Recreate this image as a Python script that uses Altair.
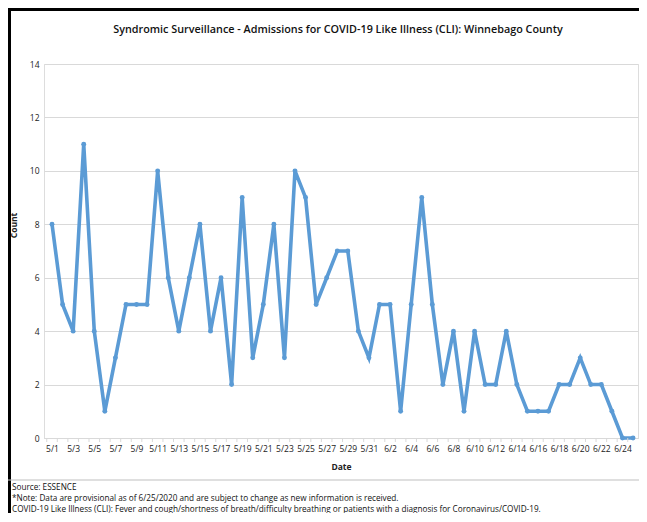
import json
import altair as alt
import pandas as pd

dates = [f"5/{d}" for d in range(1, 32)] + [f"6/{d}" for d in range(1, 26)]
counts = [8, 5, 4, 11, 4, 1, 3, 5, 5, 5,
          10, 6, 4, 6, 8, 4, 6, 2, 9, 3,
          5, 8, 3, 10, 9, 5, 6, 7, 7, 4, 3,
          5, 5, 1, 5, 9, 5, 2, 4, 1, 4,
          2, 2, 4, 2, 1, 1, 1, 2, 2, 3,
          2, 2, 1, 0, 0]
y_ticks = [0, 2, 4, 6, 8, 10, 12, 14]

title_text = "Syndromic Surveillance - Admissions for COVID-19 Like Illness (CLI): Winnebago County"
footer_lines = [
    "Source: ESSENCE",
    "*Note: Data are provisional as of 6/25/2020 and are subject to change as new information is received.",
    "COVID-19 Like Illness (CLI): Fever and cough/shortness of breath/difficulty breathing or patients with a diagnosis for Coronavirus/COVID-19.",
]

df = pd.DataFrame({"idx": list(range(len(dates))), "date": dates, "count": counts})

FONT = "Open Sans"
BLUE = "#5B9BD5"
GRID = "#d9d9d9"
W, H = 594, 374
PL, PT = 36, 56
TW, TH = 631, 505

label_values = list(range(0, len(dates), 2))
label_expr = json.dumps(dates) + "[datum.value]"

xscale = alt.Scale(domain=[-0.76, 55.47], nice=False, zero=False)
x = alt.X("idx:Q", scale=xscale,
          axis=alt.Axis(values=label_values, labelExpr=label_expr,
                        grid=False, domainColor=GRID, ticks=False,
                        labelFontSize=8.5, labelColor="#222222", labelFont=FONT,
                        labelPadding=6, labelAngle=0, labelOverlap=False, labelFlush=False,
                        labelSeparation=0, labelBound=False,
                        title="Date", titleFont=FONT, titleFontSize=8.5, titleFontWeight="bold",
                        titleColor="#222222", titleX=W / 2, titleY=28, titleBaseline="middle"))
y = alt.Y("count:Q",
          scale=alt.Scale(domain=[0, 14], nice=False),
          axis=alt.Axis(values=y_ticks, grid=True, gridColor=GRID, domain=False, ticks=False,
                        labelFontSize=8.5, labelColor="#222222", labelFont=FONT, labelPadding=5,
                        title="Count", titleFont=FONT, titleFontSize=8.5, titleFontWeight="bold",
                        titleColor="#222222", titleX=-31, titleY=161, titleAngle=270,
                        titleBaseline="middle", titleAlign="center"))

step = W / (55.47 + 0.76)

base = alt.Chart(df)
line = base.mark_line(color=BLUE, strokeWidth=3.6).encode(x=x, y=y)
pts = base.mark_circle(color=BLUE, size=24, opacity=1).encode(x=x, y=y)
ticks = base.mark_rule(color=GRID, strokeWidth=1, xOffset=-step / 2).encode(
    x=x, y=alt.value(H), y2=alt.value(H + 4))

one = alt.Data(values=[{"a": 1}])

def rule(x1, x2, y1, y2, color, w):
    return alt.Chart(one).mark_rule(color=color, strokeWidth=w).encode(
        x=alt.value(x1), x2=alt.value(x2), y=alt.value(y1), y2=alt.value(y2))

def text(t, xv, yv, size, weight="normal", align="left"):
    return alt.Chart(one).mark_text(text=t, font=FONT, fontSize=size, fontWeight=weight,
                                    align=align, baseline="middle", color="#111111").encode(
        x=alt.value(xv), y=alt.value(yv))

deco = [
    rule(-PL, TW - PL, 1.5 - PT, 1.5 - PT, "#000000", 3),
    rule(1.5 - PL, 1.5 - PL, -PT, TH - PT, "#000000", 3),
    rule(634 - PL, 634 - PL, 3 - PT, 471 - PT, GRID, 1),
    rule(-PL, TW - PL, 472 - PT, 472 - PT, "#bfbfbf", 1),
    text(title_text, 330 - PL, 22 - PT, 10.8, weight=600, align="center"),
    text(footer_lines[0], 4 - PL, 480 - PT, 8.2),
    text(footer_lines[1], 4 - PL, 491 - PT, 8.2),
    text(footer_lines[2], 4 - PL, 501.5 - PT, 8.2),
]

chart = alt.layer(line, pts, ticks, *deco).properties(
    width=W, height=H,
    autosize=alt.AutoSizeParams(type="none"),
    padding={"left": PL, "top": PT, "right": TW - PL - W, "bottom": TH - PT - H},
).configure_view(stroke=None).configure(background="white").configure_axisX(labelOverlap=False)

chart.save("out.html", embed_options={"renderer": "svg", "actions": False})
